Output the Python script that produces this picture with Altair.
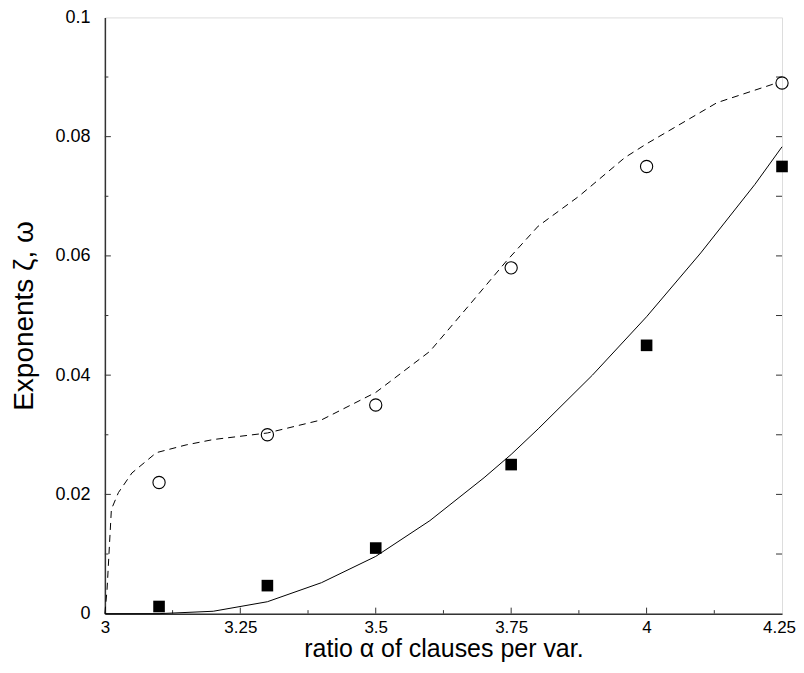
import altair as alt
import pandas as pd

# ---- data ----
pt_x = [3.1, 3.3, 3.5, 3.75, 4.0, 4.25]
circle_y = [0.022, 0.030, 0.035, 0.058, 0.075, 0.089]
square_y = [0.0012, 0.0047, 0.011, 0.025, 0.045, 0.075]

dash_x = [3.0, 3.004, 3.012, 3.025, 3.05, 3.095, 3.15, 3.2, 3.3, 3.4, 3.5, 3.6,
          3.675, 3.74, 3.8, 3.875, 3.96, 4.0, 4.13, 4.24]
dash_y = [0.0, 0.004, 0.0175, 0.0203, 0.0236, 0.027, 0.0283, 0.0292, 0.0303, 0.0325,
          0.0371, 0.044, 0.052, 0.059, 0.065, 0.070, 0.0765, 0.0788, 0.0857, 0.089]

solid_x = [3.0, 3.1, 3.2, 3.3, 3.4, 3.5, 3.6, 3.7, 3.75, 3.8, 3.9, 4.0, 4.1, 4.2, 4.25]
solid_y = [0.0, 0.0, 0.0004, 0.002, 0.0052, 0.0096, 0.0156, 0.0228, 0.0267, 0.031,
           0.040, 0.0498, 0.0605, 0.072, 0.0783]

x_labels = [3.0, 3.25, 3.5, 3.75, 4.0, 4.25]
y_labels = [0.0, 0.02, 0.04, 0.06, 0.08, 0.1]
x_major_ticks = [3.25, 3.5, 3.75, 4.0]
x_minor_ticks = [3.125, 3.375, 3.625, 3.875, 4.125]
y_major_ticks = [0.02, 0.04, 0.06, 0.08]
y_minor_ticks = [0.01, 0.03, 0.05, 0.07, 0.09]
y_right_ticks = [0.01, 0.02, 0.03, 0.04, 0.05, 0.06, 0.07, 0.08, 0.09]

W, H = 678, 597
FONT = "Liberation Sans"

xscale = alt.Scale(domain=[3.0, 4.25], nice=False, zero=False)
yscale = alt.Scale(domain=[0.0, 0.1], nice=False, zero=False)

xaxis = alt.Axis(
    title="ratio α of clauses per var.", values=x_labels, ticks=False, grid=False,
    labelFontSize=17, labelFont=FONT, labelColor="black", labelPadding=6,
    labelExpr="datum.value == 3 ? '3' : datum.value == 4 ? '4' : format(datum.value, '')",
    labelOffset={"condition": {"test": "datum.value == 4.25", "value": -3}, "value": 0},
    labelFlush=False, labelOverlap=False,
    titleFontSize=25, titleFont=FONT, titleFontWeight="normal", titleColor="black",
    titleY=43, titleBaseline="alphabetic",
    domainColor="#333", domainWidth=1.5,
)
yaxis = alt.Axis(
    title="Exponents ζ, ω", values=y_labels, ticks=False, grid=False,
    labelFontSize=18, labelFont=FONT, labelColor="black", labelPadding=15,
    labelExpr="datum.value == 0 ? '0' : format(datum.value, '')",
    labelFlush=False, labelOverlap=False,
    titleFontSize=28, titleFont=FONT, titleFontWeight="normal", titleColor="black",
    titleX=-72, titleY=H / 2, titleBaseline="alphabetic", titleAngle=-90,
    domainColor="#333", domainWidth=1.5,
)

def X(field="x"):
    return alt.X(f"{field}:Q", scale=xscale, axis=xaxis)

def Y(field="y"):
    return alt.Y(f"{field}:Q", scale=yscale, axis=yaxis)

df_dash = pd.DataFrame({"x": dash_x, "y": dash_y})
df_solid = pd.DataFrame({"x": solid_x, "y": solid_y})
df_circ = pd.DataFrame({"x": pt_x, "y": circle_y})
df_sq = pd.DataFrame({"x": pt_x, "y": square_y})

dashed = alt.Chart(df_dash).mark_line(color="black", strokeWidth=1, strokeDash=[7, 5]).encode(x=X(), y=Y())
solid = alt.Chart(df_solid).mark_line(color="black", strokeWidth=1).encode(x=X(), y=Y())
circles = alt.Chart(df_circ).mark_point(shape="circle", filled=False, color="black",
                                        strokeWidth=1.1, size=150, opacity=1).encode(x=X(), y=Y())
squares = alt.Chart(df_sq).mark_point(shape="square", filled=True, color="black",
                                      size=135, opacity=1).encode(x=X(), y=Y())

# inward tick marks
def yticks(vals, x0, x1):
    return alt.Chart(pd.DataFrame({"y": vals})).mark_rule(color="#333", strokeWidth=1).encode(
        y=Y(), x=alt.value(x0), x2=alt.value(x1))

def xticks(vals, length):
    return alt.Chart(pd.DataFrame({"x": vals})).mark_rule(color="#333", strokeWidth=1).encode(
        x=X(), y=alt.value(H), y2=alt.value(H - length))

ticks = [
    yticks(y_major_ticks, 0, 6), yticks(y_minor_ticks, 0, 3.5),
    yticks(y_right_ticks, W - 6, W),
    xticks(x_major_ticks, 6), xticks(x_minor_ticks, 3.5),
]

chart = alt.layer(*ticks, dashed, solid, circles, squares).properties(
    width=W, height=H,
    autosize=alt.AutoSizeParams(type="none"),
    padding={"left": 97, "top": 9, "right": 14, "bottom": 51},
).configure_view(stroke="black", strokeWidth=1).configure(background="white")

chart.save("out.html", embed_options={"renderer": "svg", "actions": False})
